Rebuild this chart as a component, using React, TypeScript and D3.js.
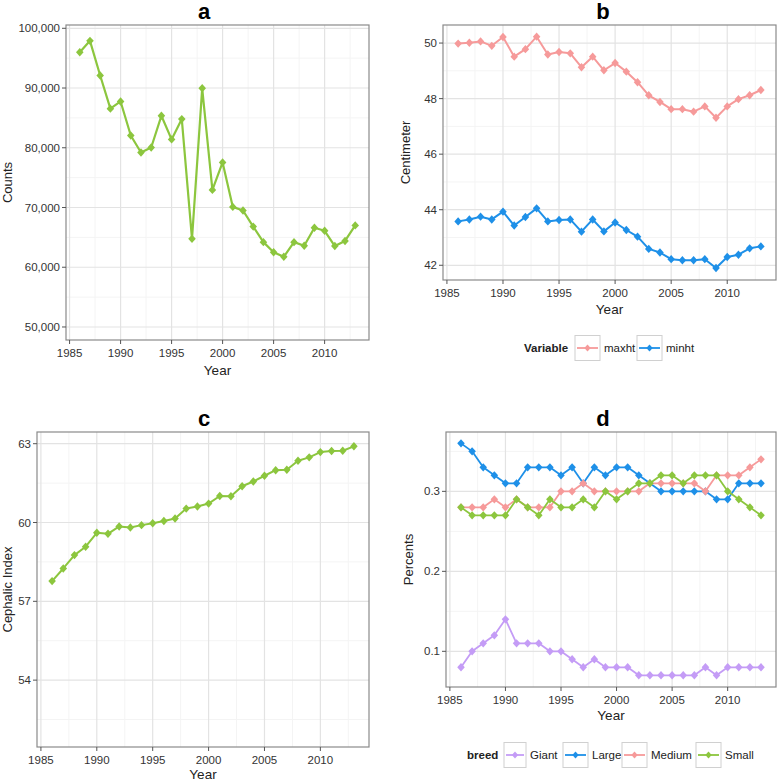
import React from "react";
import * as d3 from "d3";

const years = d3.range(1986, 2014);

const counts = [96000, 97900, 92100, 86550, 87750, 82050, 79200, 80050, 85350, 81400, 84800, 64750, 89950, 72950, 77550, 70100, 69500, 66800, 64200, 62500, 61750, 64200, 63600, 66600, 66100, 63550, 64400, 67000];

const maxht = [49.98, 50.01, 50.06, 49.9, 50.22, 49.51, 49.78, 50.23, 49.59, 49.68, 49.63, 49.13, 49.51, 49.02, 49.28, 48.97, 48.59, 48.12, 47.88, 47.62, 47.62, 47.53, 47.72, 47.31, 47.72, 47.98, 48.12, 48.31];
const minht = [43.58, 43.65, 43.75, 43.65, 43.93, 43.43, 43.74, 44.05, 43.58, 43.63, 43.65, 43.21, 43.65, 43.22, 43.54, 43.27, 43.03, 42.59, 42.46, 42.22, 42.18, 42.18, 42.22, 41.9, 42.3, 42.38, 42.61, 42.68];

const cephalic = [57.77, 58.25, 58.76, 59.08, 59.61, 59.57, 59.85, 59.81, 59.9, 59.97, 60.06, 60.15, 60.53, 60.61, 60.72, 61.01, 61.0, 61.38, 61.56, 61.78, 61.99, 62.01, 62.35, 62.48, 62.68, 62.72, 62.73, 62.9];

const giant = [0.08, 0.1, 0.11, 0.12, 0.14, 0.11, 0.11, 0.11, 0.1, 0.1, 0.09, 0.08, 0.09, 0.08, 0.08, 0.08, 0.07, 0.07, 0.07, 0.07, 0.07, 0.07, 0.08, 0.07, 0.08, 0.08, 0.08, 0.08];
const large = [0.36, 0.35, 0.33, 0.32, 0.31, 0.31, 0.33, 0.33, 0.33, 0.32, 0.33, 0.31, 0.33, 0.32, 0.33, 0.33, 0.32, 0.31, 0.3, 0.3, 0.3, 0.3, 0.3, 0.29, 0.29, 0.31, 0.31, 0.31];
const medium = [0.28, 0.28, 0.28, 0.29, 0.28, 0.29, 0.28, 0.28, 0.28, 0.3, 0.3, 0.31, 0.3, 0.3, 0.3, 0.3, 0.3, 0.31, 0.31, 0.31, 0.31, 0.31, 0.3, 0.32, 0.32, 0.32, 0.33, 0.34];
const small = [0.28, 0.27, 0.27, 0.27, 0.27, 0.29, 0.28, 0.27, 0.29, 0.28, 0.28, 0.29, 0.28, 0.3, 0.29, 0.3, 0.31, 0.31, 0.32, 0.32, 0.31, 0.32, 0.32, 0.32, 0.3, 0.29, 0.28, 0.27];

const xTicks = [1985, 1990, 1995, 2000, 2005, 2010];
const yTicksA = [50000, 60000, 70000, 80000, 90000, 100000];
const yTicksB = [42, 44, 46, 48, 50];
const yTicksC = [54, 57, 60, 63];
const yTicksD = [0.1, 0.2, 0.3];

const GREEN = "#8cc63e";
const PINK = "#f69a9a";
const BLUE = "#1e90e8";
const PURPLE = "#c49cf6";

const FONT = "'Liberation Sans', Arial, sans-serif";

type Series = { name: string; values: number[]; color: string };

const diamond = (r: number) => `M0,${-r}L${r * 0.9},0L0,${r}L${-r * 0.9},0Z`;

function Panel(props: {
  x0: number; x1: number; y0: number; y1: number;
  yDomain: [number, number]; yTicks: number[]; yFmt: (v: number) => string;
  title: string; titleX: number; titleY: number;
  yLabel: string; yLabelX: number; xLabelDy: number;
  series: Series[]; lw: number;
}) {
  const { x0, x1, y0, y1, yDomain, yTicks, yFmt, series } = props;
  const x = d3.scaleLinear().domain([1984.65, 2014.35]).range([x0, x1]);
  const y = d3.scaleLinear().domain(yDomain).range([y1, y0]);
  const step = yTicks[1] - yTicks[0];
  const yMinor: number[] = [];
  for (let v = yTicks[0] - step / 2; v < yDomain[1]; v += step) {
    if (v > yDomain[0]) yMinor.push(v);
  }
  const xMinor = [1987.5, 1992.5, 1997.5, 2002.5, 2007.5, 2012.5];
  const line = d3.line<number>().x((_, i) => x(years[i])).y((v) => y(v));
  return (
    <g>
      <rect x={x0} y={y0} width={x1 - x0} height={y1 - y0} fill="#fff" />
      {yMinor.map((v) => (
        <line key={"ym" + v} x1={x0} x2={x1} y1={y(v)} y2={y(v)} stroke="#f4f4f4" strokeWidth={1} />
      ))}
      {xMinor.map((v) => (
        <line key={"xm" + v} y1={y0} y2={y1} x1={x(v)} x2={x(v)} stroke="#f4f4f4" strokeWidth={1} />
      ))}
      {yTicks.map((v) => (
        <line key={"yg" + v} x1={x0} x2={x1} y1={y(v)} y2={y(v)} stroke="#e3e3e3" strokeWidth={1.2} />
      ))}
      {xTicks.map((v) => (
        <line key={"xg" + v} y1={y0} y2={y1} x1={x(v)} x2={x(v)} stroke="#e3e3e3" strokeWidth={1.2} />
      ))}
      {series.map((s) => (
        <g key={s.name}>
          <path d={line(s.values) || ""} fill="none" stroke={s.color} strokeWidth={props.lw} strokeLinejoin="round" />
          {s.values.map((v, i) => (
            <path key={i} d={diamond(4.2)} transform={`translate(${x(years[i])},${y(v)})`} fill={s.color} />
          ))}
        </g>
      ))}
      <rect x={x0} y={y0} width={x1 - x0} height={y1 - y0} fill="none" stroke="#8a8a8a" strokeWidth={1.2} />
      {yTicks.map((v) => (
        <g key={"yt" + v}>
          <line x1={x0 - 4} x2={x0} y1={y(v)} y2={y(v)} stroke="#555" strokeWidth={1} />
          <text x={x0 - 6} y={y(v)} dy="0.35em" textAnchor="end" fontSize={11.5} fill="#333">{yFmt(v)}</text>
        </g>
      ))}
      {xTicks.map((v) => (
        <g key={"xt" + v}>
          <line y1={y1} y2={y1 + 4} x1={x(v)} x2={x(v)} stroke="#555" strokeWidth={1} />
          <text x={x(v)} y={y1 + 17} textAnchor="middle" fontSize={11.5} fill="#333">{v}</text>
        </g>
      ))}
      <text x={(x0 + x1) / 2} y={y1 + props.xLabelDy} textAnchor="middle" fontSize={13.5} fill="#222">Year</text>
      <text transform={`translate(${props.yLabelX},${(y0 + y1) / 2}) rotate(-90)`} textAnchor="middle" fontSize={13} fill="#222">{props.yLabel}</text>
      <text x={props.titleX} y={props.titleY} textAnchor="middle" fontSize={22} fontWeight="bold" fill="#000">{props.title}</text>
    </g>
  );
}

function LegendKey(props: { x: number; y: number; color: string; label: string; w: number }) {
  const { x, y, color, label, w } = props;
  return (
    <g>
      <rect x={x} y={y - 12.5} width={w} height={25} fill="#fff" stroke="#d0d0d0" strokeWidth={1} />
      <line x1={x + 2} x2={x + w - 2} y1={y} y2={y} stroke={color} strokeWidth={1.8} />
      <path d={diamond(3.5)} transform={`translate(${x + w / 2},${y})`} fill={color} />
      <text x={x + w + 4} y={y} dy="0.35em" fontSize={11.5} fill="#222">{label}</text>
    </g>
  );
}

export default function App() {
  const fmtA = d3.format(",");
  const fmtNum = (v: number) => String(v);
  return (
    <svg width={778} height={782} style={{ display: "block", position: "absolute", left: 0, top: 0 }} fontFamily={FONT}>
      <rect width={778} height={782} fill="#fff" />
      <Panel x0={66} x1={369} y0={25} y1={340} yDomain={[47820, 100550]} yTicks={yTicksA} yFmt={fmtA}
        title="a" titleX={204} titleY={19} yLabel="Counts" yLabelX={12} xLabelDy={35}
        series={[{ name: "counts", values: counts, color: GREEN }]} lw={2.2} />
      <Panel x0={443} x1={776} y0={25} y1={280} yDomain={[41.47, 50.65]} yTicks={yTicksB} yFmt={fmtNum}
        title="b" titleX={603} titleY={19} yLabel="Centimeter" yLabelX={410} xLabelDy={34}
        series={[{ name: "maxht", values: maxht, color: PINK }, { name: "minht", values: minht, color: BLUE }]} lw={2} />
      <Panel x0={37} x1={369} y0={432} y1={747} yDomain={[51.455, 63.445]} yTicks={yTicksC} yFmt={fmtNum}
        title="c" titleX={204} titleY={426} yLabel="Cephalic Index" yLabelX={12} xLabelDy={32}
        series={[{ name: "ci", values: cephalic, color: GREEN }]} lw={2} />
      <Panel x0={446} x1={776} y0={432} y1={687} yDomain={[0.0554, 0.3742]} yTicks={yTicksD} yFmt={fmtNum}
        title="d" titleX={603} titleY={426} yLabel="Percents" yLabelX={413} xLabelDy={33}
        series={[
          { name: "Giant", values: giant, color: PURPLE },
          { name: "Large", values: large, color: BLUE },
          { name: "Medium", values: medium, color: PINK },
          { name: "Small", values: small, color: GREEN },
        ]} lw={1.8} />
      <text x={524} y={348} dy="0.35em" fontSize={11.5} fontWeight="bold" fill="#222">Variable</text>
      <LegendKey x={575} y={348} color={PINK} label="maxht" w={25} />
      <LegendKey x={637} y={348} color={BLUE} label="minht" w={25} />
      <text x={467} y={755} dy="0.35em" fontSize={11.5} fontWeight="bold" fill="#222">breed</text>
      <LegendKey x={504} y={755} color={PURPLE} label="Giant" w={22} />
      <LegendKey x={563} y={755} color={BLUE} label="Large" w={25} />
      <LegendKey x={622} y={755} color={PINK} label="Medium" w={25} />
      <LegendKey x={696} y={755} color={GREEN} label="Small" w={25} />
    </svg>
  );
}
